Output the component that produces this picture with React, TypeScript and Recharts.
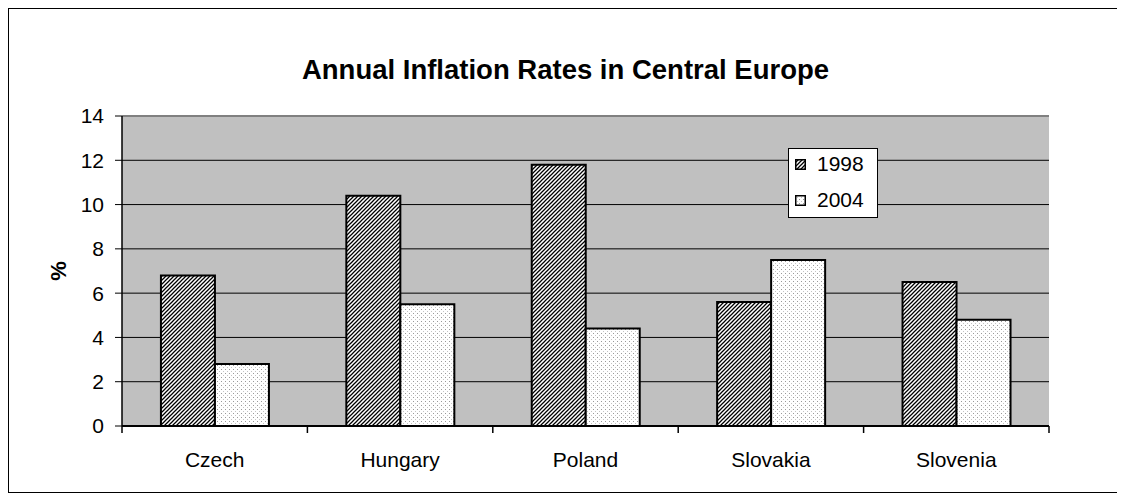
import React from 'react';
import {
  BarChart,
  Bar,
  XAxis,
  YAxis,
  CartesianGrid,
  Legend,
  ReferenceLine,
  Label,
} from 'recharts';

const countries = ['Czech', 'Hungary', 'Poland', 'Slovakia', 'Slovenia'];
const rates1998 = [6.8, 10.4, 11.8, 5.6, 6.5];
const rates2004 = [2.8, 5.5, 4.4, 7.5, 4.8];
const yTicks = [0, 2, 4, 6, 8, 10, 12, 14];
const seriesNames = ['1998', '2004'];

const data = countries.map((country, i) => ({
  country,
  y1998: rates1998[i],
  y2004: rates2004[i],
}));

const FONT = '"Liberation Sans", Arial, Helvetica, sans-serif';
const CHART_W = 1113;
const CHART_H = 483;
const MARGIN = { top: 107, right: 73, bottom: 21, left: 43 };
const Y_AXIS_W = 70;
const PLOT_W = CHART_W - MARGIN.left - MARGIN.right - Y_AXIS_W;

// hatch + dots fills, used by the bars and the legend swatches
const Patterns = ({ suffix = '' }: { suffix?: string }) => (
  <defs>
    <pattern id={`hatch${suffix}`} patternUnits="userSpaceOnUse" width="4" height="4">
      <rect width="4" height="4" fill="#fff" />
      <path d="M-1,1 l2,-2 M0,4 l4,-4 M3,5 l2,-2" stroke="#000" strokeWidth="1.25" />
    </pattern>
    <pattern id={`dots${suffix}`} patternUnits="userSpaceOnUse" width="4" height="4">
      <rect width="4" height="4" fill="#fff" />
      <rect x="0" y="0" width="1" height="1" fill="#999" />
      <rect x="2" y="2" width="1" height="1" fill="#c4c4c4" />
    </pattern>
  </defs>
);

const CategoryTick = (props: any) => {
  const { x, y, payload, index } = props;
  const half = payload?.offset || PLOT_W / countries.length / 2;
  const last = index === countries.length - 1;
  return (
    <g>
      <line x1={x - half} y1={y} x2={x - half} y2={y + 7} stroke="#000" strokeWidth={1.5} />
      {last && <line x1={x + half} y1={y} x2={x + half} y2={y + 7} stroke="#000" strokeWidth={1.5} />}
      <text x={x} y={y + 41} textAnchor="middle" fill="#000" fontSize={21} fontFamily={FONT}>
        {payload.value}
      </text>
    </g>
  );
};

const LegendBox = () => (
  <div
    style={{
      position: 'relative',
      width: 90,
      height: 70,
      boxSizing: 'border-box',
      border: '1px solid #000',
      background: '#fff',
      fontFamily: FONT,
      fontSize: 21,
      color: '#000',
    }}
  >
    {seriesNames.map((name, i) => (
      <div
        key={name}
        style={{
          position: 'absolute',
          left: 6,
          top: 3 + i * 36,
          height: 24,
          lineHeight: '24px',
          display: 'flex',
          alignItems: 'center',
        }}
      >
        <svg width={11} height={11} style={{ display: 'block' }}>
          <Patterns suffix="-lg" />
          <rect
            x={0.75}
            y={0.75}
            width={9.5}
            height={9.5}
            fill={i === 0 ? 'url(#hatch-lg)' : 'url(#dots-lg)'}
            stroke="#000"
            strokeWidth={1.5}
          />
        </svg>
        <span style={{ marginLeft: 11 }}>{name}</span>
      </div>
    ))}
  </div>
);

const App: React.FC = () => {
  return (
    <div
      style={{
        position: 'relative',
        width: CHART_W,
        height: CHART_H,
        border: '1px solid #000',
        background: '#fff',
      }}
    >
      <div
        style={{
          position: 'absolute',
          top: 45,
          left: 0,
          width: '100%',
          textAlign: 'center',
          fontFamily: FONT,
          fontWeight: 'bold',
          fontSize: 27.5,
          lineHeight: '32px',
          color: '#000',
        }}
      >
        Annual Inflation Rates in Central Europe
      </div>
      <BarChart
        width={CHART_W}
        height={CHART_H}
        data={data}
        margin={MARGIN}
        barCategoryGap="21%"
        barGap={0}
      >
        <Patterns />
        <CartesianGrid vertical={false} stroke="#000" fill="#C0C0C0" fillOpacity={1} />
        <XAxis
          dataKey="country"
          height={45}
          tickSize={0}
          tickMargin={0}
          tickLine={false}
          axisLine={{ stroke: '#000', strokeWidth: 2 }}
          tick={<CategoryTick />}
          interval={0}
        />
        <YAxis
          width={Y_AXIS_W}
          domain={[0, 14]}
          ticks={yTicks}
          interval={0}
          tickSize={7}
          tickMargin={11}
          axisLine={{ stroke: '#000', strokeWidth: 1.5 }}
          tickLine={{ stroke: '#000' }}
          tick={{ fill: '#000', fontSize: 21, fontFamily: FONT }}
        >
          <Label
            content={({ viewBox }: any) => {
              const cx = viewBox.x + 6;
              const cy = viewBox.y + viewBox.height / 2;
              return (
                <text
                  x={cx}
                  y={cy}
                  transform={`rotate(-90 ${cx} ${cy})`}
                  textAnchor="middle"
                  dominantBaseline="central"
                  fontFamily={FONT}
                  fontWeight="bold"
                  fontSize={22}
                  fill="#000"
                >
                  %
                </text>
              );
            }}
          />
        </YAxis>
        <YAxis
          yAxisId="right"
          orientation="right"
          width={0}
          domain={[0, 14]}
          tick={false}
          tickLine={false}
          axisLine={{ stroke: '#808080', strokeWidth: 2 }}
        />
        <ReferenceLine y={14} stroke="#808080" strokeWidth={2} />
        <Bar
          dataKey="y1998"
          name={seriesNames[0]}
          fill="url(#hatch)"
          stroke="#000"
          strokeWidth={2}
          isAnimationActive={false}
        />
        <Bar
          dataKey="y2004"
          name={seriesNames[1]}
          fill="url(#dots)"
          stroke="#000"
          strokeWidth={2}
          isAnimationActive={false}
        />
        <Legend
          layout="vertical"
          align="center"
          verticalAlign="middle"
          content={<LegendBox />}
          wrapperStyle={{ left: 779, top: 139, width: 90, height: 70 }}
        />
      </BarChart>
    </div>
  );
};

export default App;
